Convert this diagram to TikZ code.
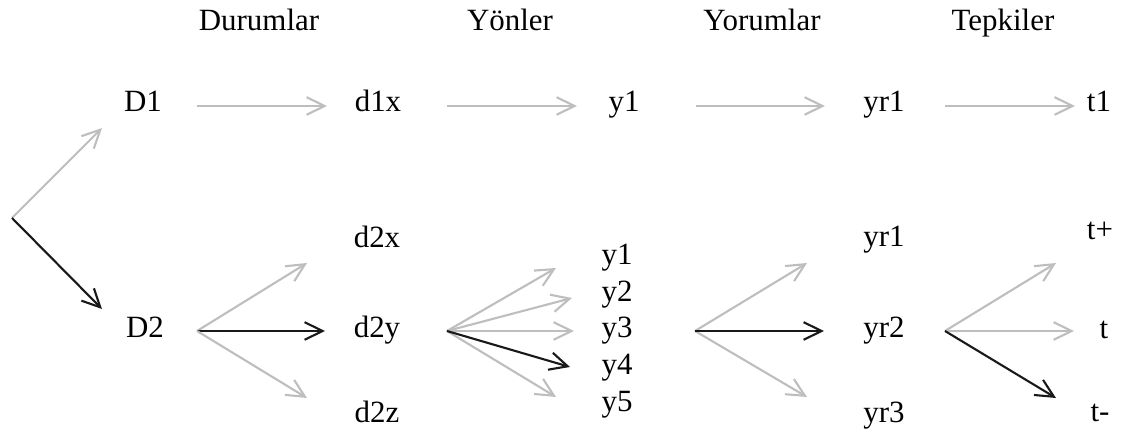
\documentclass[tikz,border=0pt]{standalone}
\usepackage{fontspec}
\setmainfont{Liberation Serif}
\usetikzlibrary{arrows.meta,positioning}
\definecolor{lightarrow}{RGB}{190,190,190}
\definecolor{darkarrow}{RGB}{25,25,25}

\begin{document}
\begin{tikzpicture}[
    lbl/.style={inner sep=0pt, text height=0.7em, text depth=0.22em, font=\fontsize{22}{26}\selectfont},
    arrow/.style={-{Straight Barb[length=0.45cm,width=0.44cm]}, line width=1.5pt},
    grayarrow/.style={arrow, draw=lightarrow},
    blackarrow/.style={arrow, draw=darkarrow}
]
\useasboundingbox (0,0) rectangle (28.25,10.8);

% Column headers
\node[lbl] (durumlar) at (6.475,10.13) {Durumlar};
\node[lbl] (yonler) at (12.75,10.13) {Yönler};
\node[lbl] (yorumlar) at (19.05,10.13) {Yorumlar};
\node[lbl] (tepkiler) at (25.075,10.13) {Tepkiler};

% First chain
\node[lbl] (D1) at (3.575,8.1) {D1};
\node[lbl] (d1x) at (9.45,8.1) {d1x};
\node[lbl] (y1top) at (15.6,8.1) {y1};
\node[lbl] (yr1top) at (22.1,8.1) {yr1};
\node[lbl] (t1) at (27.475,8.1) {t1};

% Second chain
\node[lbl] (D2) at (3.625,2.45) {D2};
\node[lbl] (d2x) at (9.425,4.7) {d2x};
\node[lbl] (d2y) at (9.425,2.45) {d2y};
\node[lbl] (d2z) at (9.425,0.33) {d2z};

\node[lbl] (y1) at (15.425,4.28) {y1};
\node[lbl] (y2) at (15.425,3.355) {y2};
\node[lbl] (y3) at (15.425,2.45) {y3};
\node[lbl] (y4) at (15.425,1.53) {y4};
\node[lbl] (y5) at (15.425,0.605) {y5};

\node[lbl] (yr1) at (22.1,4.73) {yr1};
\node[lbl] (yr2) at (22.1,2.45) {yr2};
\node[lbl] (yr3) at (22.1,0.33) {yr3};

\node[lbl] (tplus) at (27.5,4.9) {t+};
\node[lbl] (t) at (27.6,2.43) {t};
\node[lbl] (tminus) at (27.5,0.355) {t-};

% Arrow roots and tips
\coordinate (start) at (0.3,5.35);
\coordinate (to D1) at (2.55,7.6);
\coordinate (to D2) at (2.55,3.075);

\coordinate (D1 out) at (4.925,8.15);
\coordinate (d1x in) at (8.175,8.15);
\coordinate (d1x out) at (11.175,8.15);
\coordinate (y1top in) at (14.425,8.15);
\coordinate (y1top out) at (17.4,8.15);
\coordinate (yr1top in) at (20.625,8.15);
\coordinate (yr1top out) at (23.625,8.15);
\coordinate (t1 in) at (26.875,8.15);

\coordinate (D2 out) at (4.925,2.525);
\coordinate (d2x in) at (7.675,4.225);
\coordinate (d2y in) at (8.125,2.525);
\coordinate (d2z in) at (7.675,0.85);

\coordinate (d2y out) at (11.175,2.525);
\coordinate (y1 in) at (13.9,4.1);
\coordinate (y2 in) at (14.3,3.35);
\coordinate (y3 in) at (14.35,2.525);
\coordinate (y4 in) at (14.25,1.625);
\coordinate (y5 in) at (13.9,0.875);

\coordinate (y out) at (17.375,2.525);
\coordinate (yr1 in) at (20.175,4.225);
\coordinate (yr2 in) at (20.6,2.525);
\coordinate (yr3 in) at (20.175,0.875);

\coordinate (yr2 out) at (23.625,2.525);
\coordinate (tplus in) at (26.4,4.225);
\coordinate (t in) at (26.85,2.525);
\coordinate (tminus in) at (26.4,0.85);

% Split into the two chains
\draw[grayarrow] (start) -- (to D1);
\draw[blackarrow] (start) -- (to D2);

% First chain arrows
\draw[grayarrow] (D1 out) -- (d1x in);
\draw[grayarrow] (d1x out) -- (y1top in);
\draw[grayarrow] (y1top out) -- (yr1top in);
\draw[grayarrow] (yr1top out) -- (t1 in);

% Second chain: durumlar
\draw[grayarrow] (D2 out) -- (d2x in);
\draw[blackarrow] (D2 out) -- (d2y in);
\draw[grayarrow] (D2 out) -- (d2z in);

% Second chain: yonler
\draw[grayarrow] (d2y out) -- (y1 in);
\draw[grayarrow] (d2y out) -- (y2 in);
\draw[grayarrow] (d2y out) -- (y3 in);
\draw[grayarrow] (d2y out) -- (y5 in);
\draw[blackarrow] (d2y out) -- (y4 in);

% Second chain: yorumlar
\draw[grayarrow] (y out) -- (yr1 in);
\draw[grayarrow] (y out) -- (yr3 in);
\draw[blackarrow] (y out) -- (yr2 in);

% Second chain: tepkiler
\draw[grayarrow] (yr2 out) -- (tplus in);
\draw[grayarrow] (yr2 out) -- (t in);
\draw[blackarrow] (yr2 out) -- (tminus in);

\end{tikzpicture}
\end{document}
